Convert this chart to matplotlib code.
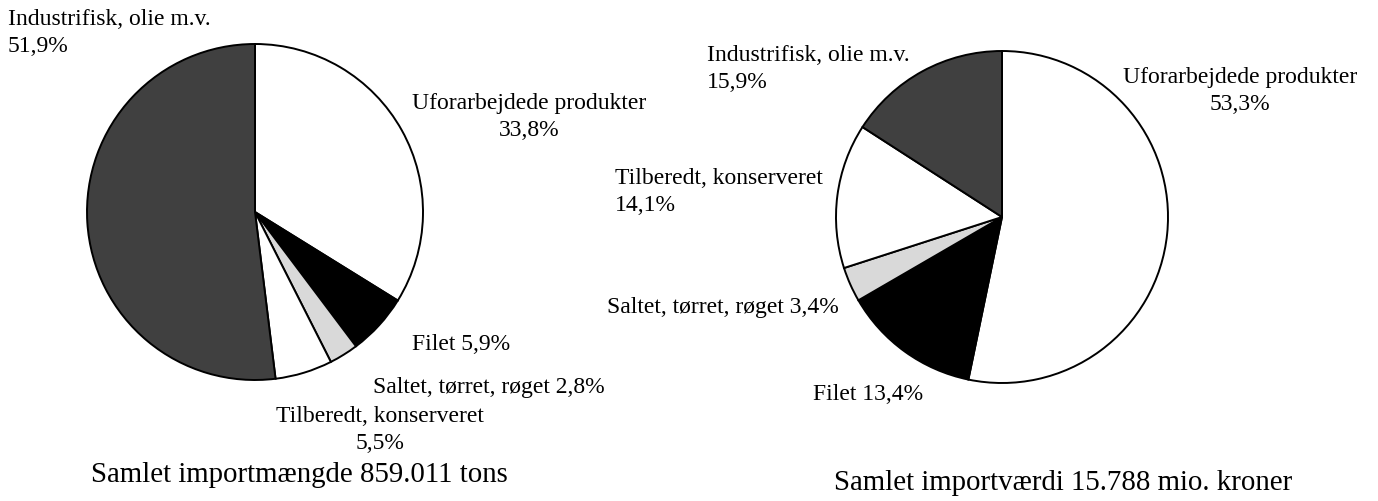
import matplotlib
matplotlib.use("Agg")
import matplotlib.pyplot as plt

# ---- data ----
categories = ["Uforarbejdede produkter", "Filet", "Saltet, tørret, røget",
              "Tilberedt, konserveret", "Industrifisk, olie m.v."]
mængde_pct = [33.8, 5.9, 2.8, 5.5, 51.9]
værdi_pct = [53.3, 13.4, 3.4, 14.1, 15.9]
titles = ["Samlet importmængde 859.011 tons",
          "Samlet importværdi 15.788 mio. kroner"]
colors = ["#ffffff", "#000000", "#d9d9d9", "#ffffff", "#404040"]

W, H = 1378, 502
plt.rcParams['font.family'] = ['Liberation Serif', 'DejaVu Serif']

fig = plt.figure(figsize=(W / 100, H / 100), dpi=100)
ax = fig.add_axes([0, 0, 1, 1])


def py(y):
    return H - y


def fmt(v):
    return f"{v:.1f}%".replace(".", ",")


wedge_kw = dict(edgecolor="black", linewidth=1.4, joinstyle="miter")
ax.pie(mængde_pct, colors=colors, startangle=90, counterclock=False,
       center=(255, py(213)), radius=168, frame=True, wedgeprops=wedge_kw)
ax.pie(værdi_pct, colors=colors, startangle=90, counterclock=False,
       center=(1002, py(218)), radius=166, frame=True, wedgeprops=wedge_kw)

FS = 17.0
TS = 20.8

# label layout: (separator, x, y of last-line baseline, ha)
left_layout = [("\n", 529, 136, "center"),
               (" ", 412, 350, "left"),
               (" ", 373, 393, "left"),
               ("\n", 380, 449, "center"),
               ("\n", 8, 52, "left")]
right_layout = [("\n", 1240, 110, "center"),
                (" ", 813, 400, "left"),
                (" ", 607, 313, "left"),
                ("\n", 615, 211, "left"),
                ("\n", 707, 88, "left")]

for vals, layout in ((mængde_pct, left_layout), (værdi_pct, right_layout)):
    for name, v, (sep, x, y, ha) in zip(categories, vals, layout):
        ax.text(x, py(y), f"{name}{sep}{fmt(v)}", ha=ha, va="baseline",
                multialignment=ha, fontsize=FS, linespacing=1.4)

ax.text(299, py(482), titles[0], ha="center", va="baseline", fontsize=TS)
ax.text(1063, py(490), titles[1], ha="center", va="baseline", fontsize=TS)

ax.set_xlim(0, W)
ax.set_ylim(0, H)
ax.set_aspect("auto")
ax.axis("off")

fig.savefig("out.png", dpi=100, facecolor="white")
